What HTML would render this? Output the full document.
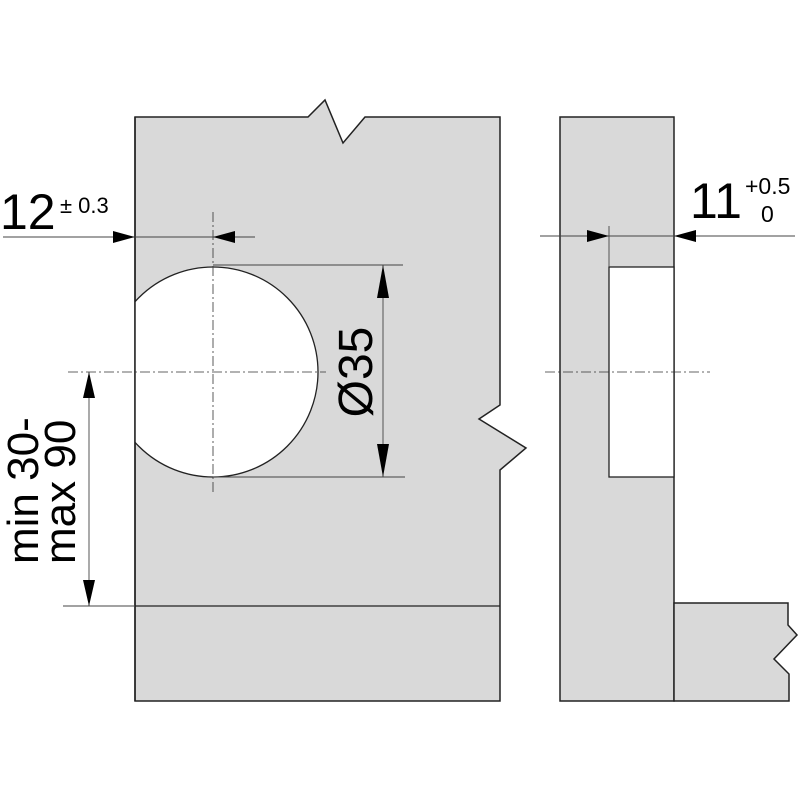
<!DOCTYPE html>
<html><head><meta charset="utf-8"><style>
html,body{margin:0;padding:0;background:#fff;}
svg{display:block;}
text{font-family:"Liberation Sans",sans-serif;fill:#000;}
</style></head><body>
<svg width="800" height="800" viewBox="0 0 800 800" xmlns="http://www.w3.org/2000/svg">
<defs>
<clipPath id="c"><rect x="135" y="100" width="400" height="620"/></clipPath>
</defs>
<polygon points="135,117 308,117 325,100 343,143 365,117 500,117 500,405 479,419 526,448 500,470 500,701 135,701" fill="#d9d9d9" stroke="#222" stroke-width="1.5"/>
<circle cx="213" cy="372" r="105" fill="#fff" stroke="#222" stroke-width="1.3" clip-path="url(#c)"/>
<line x1="135" y1="117" x2="135" y2="701" stroke="#222" stroke-width="1.5"/>
<line x1="135" y1="606" x2="500" y2="606" stroke="#222" stroke-width="1.3"/>
<line x1="213" y1="212" x2="213" y2="492" stroke="#333" stroke-width="0.8" stroke-dasharray="10,3,2,3"/>
<line x1="68" y1="372" x2="326" y2="372" stroke="#333" stroke-width="0.8" stroke-dasharray="10,3,2,3"/>
<line x1="3" y1="237" x2="255" y2="237" stroke="#444" stroke-width="0.9"/>
<polygon points="135,237 113,231 113,243" fill="#000"/>
<polygon points="213,237 235,231 235,243" fill="#000"/>
<text x="0" y="229" font-size="50">12</text>
<text x="60" y="213" font-size="22">± 0.3</text>
<line x1="213" y1="265" x2="403" y2="265" stroke="#444" stroke-width="0.9"/>
<line x1="213" y1="477" x2="405" y2="477" stroke="#444" stroke-width="0.9"/>
<line x1="383" y1="265" x2="383" y2="477" stroke="#444" stroke-width="0.9"/>
<polygon points="383,265 377,298 389,298" fill="#000"/>
<polygon points="383,477 377,444 389,444" fill="#000"/>
<text transform="translate(372,372) rotate(-90)" text-anchor="middle" font-size="48">Ø35</text>
<line x1="63" y1="606" x2="135" y2="606" stroke="#444" stroke-width="0.9"/>
<line x1="89" y1="372" x2="89" y2="606" stroke="#444" stroke-width="0.9"/>
<polygon points="89,372 83,398 95,398" fill="#000"/>
<polygon points="89,606 83,580 95,580" fill="#000"/>
<text transform="translate(38,564) rotate(-90)" font-size="44">min 30-</text>
<text transform="translate(75,564) rotate(-90)" font-size="44">max 90</text>
<rect x="560" y="117" width="114" height="584" fill="#d9d9d9" stroke="#222" stroke-width="1.5"/>
<polygon points="674,603 788,603 788,625 797,635 774,659 789,674 789,701 674,701" fill="#d9d9d9" stroke="#222" stroke-width="1.5"/>
<rect x="609" y="267" width="65" height="210" fill="#fff" stroke="#222" stroke-width="1.3"/>
<line x1="609" y1="226" x2="609" y2="267" stroke="#444" stroke-width="0.9"/>
<line x1="540" y1="236" x2="795" y2="236" stroke="#444" stroke-width="0.9"/>
<polygon points="609,236 587,230 587,242" fill="#000"/>
<polygon points="674,236 696,230 696,242" fill="#000"/>
<line x1="545" y1="372" x2="710" y2="372" stroke="#333" stroke-width="0.8" stroke-dasharray="10,3,2,3"/>
<text x="690" y="218" font-size="50">11</text>
<text x="745" y="194" font-size="23">+0.5</text>
<text x="761" y="222" font-size="23">0</text>
</svg>
</body></html>
